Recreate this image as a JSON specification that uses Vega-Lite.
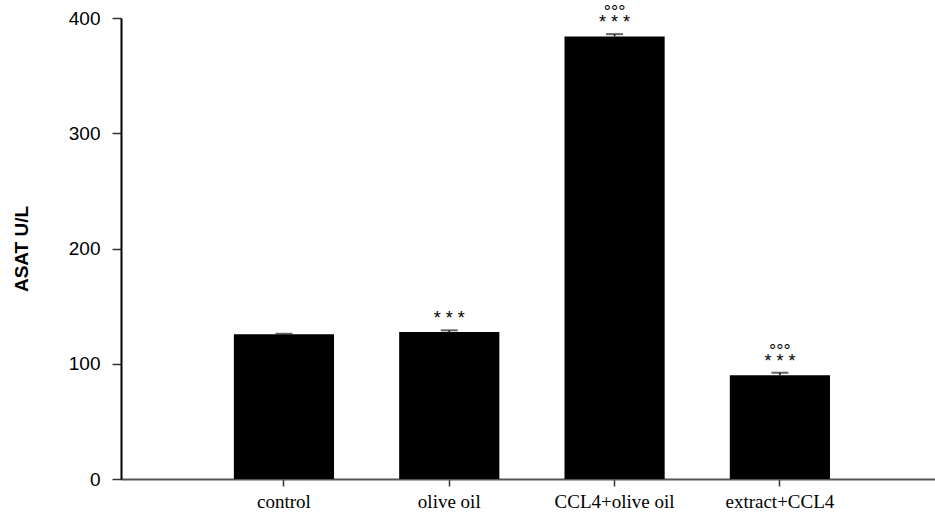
{
  "$schema": "https://vega.github.io/schema/vega-lite/v6.json",
  "autosize": "none",
  "width": 814,
  "height": 461,
  "padding": {"left": 121, "top": 18, "right": 0, "bottom": 44},
  "background": "white",
  "config": {"view": {"stroke": null}},
  "data": {
    "values": [
      {"group": "control", "mean": 125.5, "sem": 0.5, "sig": ["", ""]},
      {"group": "olive oil", "mean": 127.5, "sem": 1.5, "sig": ["", "* * *"]},
      {"group": "CCL4+olive oil", "mean": 384, "sem": 2, "sig": ["°°°", "* * *"]},
      {"group": "extract+CCL4", "mean": 90, "sem": 2.2, "sig": ["°°°", "* * *"]}
    ]
  },
  "transform": [{"calculate": "datum.mean + datum.sem", "as": "top"}],
  "encoding": {
    "x": {
      "field": "group",
      "type": "nominal",
      "sort": null,
      "scale": {"paddingInner": 0.394, "paddingOuter": 0.659, "align": 0.518},
      "axis": {
        "title": null,
        "labelAngle": 0,
        "labelFont": "Liberation Serif",
        "labelFontSize": 19,
        "labelColor": "black",
        "labelPadding": 6,
        "domainColor": "#555555",
        "domainWidth": 2,
        "tickColor": "#333333",
        "tickWidth": 1.5,
        "tickSize": 7
      }
    }
  },
  "layer": [
    {
      "mark": {"type": "bar", "color": "black"},
      "encoding": {
        "y": {
          "field": "mean",
          "type": "quantitative",
          "scale": {"domain": [0, 400], "nice": false},
          "axis": {
            "values": [0, 100, 200, 300, 400],
            "grid": false,
            "title": "ASAT U/L",
            "titleFont": "Liberation Sans",
            "titleFontWeight": "bold",
            "titleFontSize": 19,
            "titleColor": "black",
            "titlePadding": 37,
            "labelFont": "Liberation Sans",
            "labelFontSize": 19,
            "labelColor": "black",
            "labelPadding": 12,
            "domainColor": "black",
            "domainWidth": 2,
            "tickColor": "#333333",
            "tickWidth": 1.5,
            "tickSize": 9
          }
        }
      }
    },
    {
      "mark": {"type": "rule", "color": "black", "strokeWidth": 1.5},
      "encoding": {
        "y": {"field": "mean", "type": "quantitative"},
        "y2": {"field": "top"}
      }
    },
    {
      "mark": {"type": "tick", "color": "#222222", "thickness": 2, "size": 17},
      "encoding": {
        "y": {"field": "top", "type": "quantitative"}
      }
    },
    {
      "mark": {"type": "text", "font": "Liberation Sans", "fontSize": 18, "color": "black", "baseline": "bottom", "lineHeight": 10, "dy": -12},
      "encoding": {
        "y": {"field": "top", "type": "quantitative"},
        "text": {"field": "sig"}
      }
    }
  ]
}
